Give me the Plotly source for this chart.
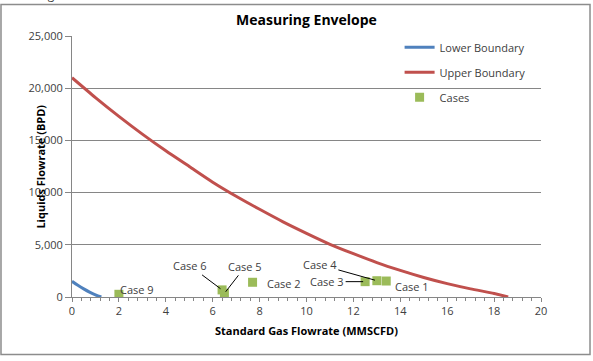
import plotly.graph_objects as go

# Data
lower_x = [0, 0.25, 0.5, 0.75, 1.0, 1.25]
lower_y = [1500, 1120, 780, 470, 210, 0]

upper_x = [0, 1, 2, 3, 4, 5, 6, 7, 8, 9, 10, 11, 12, 13, 14, 15, 16, 17, 18, 18.6]
upper_y = [21000, 19100, 17300, 15600, 14000, 12500, 11000, 9650, 8400, 7200,
           6100, 5050, 4150, 3300, 2550, 1870, 1280, 780, 340, 0]

case_names = ["Case 1", "Case 2", "Case 3", "Case 4", "Case 5", "Case 6", "Case 9"]
case_x = [13.4, 7.7, 12.5, 13.0, 6.5, 6.4, 2.0]
case_y = [1530, 1410, 1470, 1560, 350, 680, 260]

FONT = "Open Sans"
TXT = "#404040"
GRID = "#868686"

fig = go.Figure()
fig.add_trace(go.Scatter(x=lower_x, y=lower_y, mode="lines", name="Lower Boundary",
                         line=dict(color="#4F81BD", width=3, shape="spline"),
                         legendgroup="a"))
fig.add_trace(go.Scatter(x=upper_x, y=upper_y, mode="lines", name="Upper Boundary",
                         line=dict(color="#C0504D", width=3, shape="spline", smoothing=0.6),
                         legendgroup="b"))
fig.add_trace(go.Scatter(x=case_x, y=case_y, mode="markers", name="Cases",
                         marker=dict(color="#9BBB59", size=9, symbol="square"),
                         legendgroup="c"))

# label offsets (pixels) per case: (mode, dx, dy)
label_pos = {
    "Case 1": ("shift", 26, -5),
    "Case 2": ("shift", 31, -1),
    "Case 3": ("arrow", -38, 0),
    "Case 4": ("arrow", -57, -16),
    "Case 5": ("arrow", 21, -27),
    "Case 6": ("arrow", -32, -24),
    "Case 9": ("shift", 18, 5),
}
for n, x, y in zip(case_names, case_x, case_y):
    mode, dx, dy = label_pos[n]
    if mode == "shift":
        fig.add_annotation(x=x, y=y, text=n, showarrow=False, xshift=dx, yshift=dy,
                           font=dict(family=FONT, size=11, color=TXT))
    else:
        fig.add_annotation(x=x, y=y, text=n, showarrow=True, ax=dx, ay=dy,
                           arrowhead=0, arrowwidth=1, arrowcolor="#000000",
                           standoff=2, font=dict(family=FONT, size=11, color=TXT))

# axis titles
fig.add_annotation(xref="paper", yref="paper", x=0.5, xanchor="center", y=-0.13, yanchor="middle",
                   text="<b>Standard Gas Flowrate (MMSCFD)</b>",
                   showarrow=False, font=dict(family=FONT, size=11, color="#000000"))
fig.add_annotation(xref="paper", yref="paper", x=-0.068, xanchor="center", y=0.5, yanchor="middle",
                   text="<b>Liquids Flowrate (BPD)</b>",
                   showarrow=False, textangle=-90, font=dict(family=FONT, size=11, color="#000000"))
# cut-off header text
fig.add_annotation(xref="paper", yref="paper", x=-0.153, xanchor="left", y=1.118, yanchor="bottom",
                   text="Gas Range: 1.250 - 18.00 MMSCFD", showarrow=False,
                   font=dict(family=FONT, size=12, color="#404040"))

# outer border
fig.add_shape(type="rect", xref="paper", yref="paper", x0=-0.1514, x1=1.1045, y0=-0.2203, y1=1.121,
              line=dict(color="#8c8c8c", width=1.5))

fig.update_layout(
    width=593, height=361,
    margin=dict(l=72, r=52, t=36, b=64),
    paper_bgcolor="white", plot_bgcolor="white",
    title=dict(text="<b>Measuring Envelope</b>", x=0.5, xref="paper", y=0.945, yanchor="middle",
               font=dict(family=FONT, size=14, color="#000000")),
    font=dict(family=FONT, size=11, color=TXT),
    showlegend=True,
    legend=dict(x=0.6985, y=1.012, xanchor="left", yanchor="top", bgcolor="rgba(0,0,0,0)",
                tracegroupgap=6, font=dict(family=FONT, size=11, color=TXT)),
    xaxis=dict(range=[0, 20], dtick=2, showgrid=False, showline=True, linecolor=GRID, linewidth=1,
               ticks="outside", ticklen=4, tickcolor=GRID, zeroline=False,
               minor=dict(dtick=0.4, ticks="outside", ticklen=3, tickcolor=GRID),
               tickfont=dict(family=FONT, size=11, color=TXT)),
    yaxis=dict(range=[0, 25000], dtick=5000, tickformat=",", showgrid=True, gridcolor=GRID, gridwidth=1,
               showline=True, linecolor=GRID, linewidth=1, ticks="outside", ticklen=6, tickcolor=GRID,
               zeroline=False, tickfont=dict(family=FONT, size=11, color=TXT)),
)

fig.write_html("out.html", config={"displayModeBar": False},
               post_script="document.body.style.margin='0';")
